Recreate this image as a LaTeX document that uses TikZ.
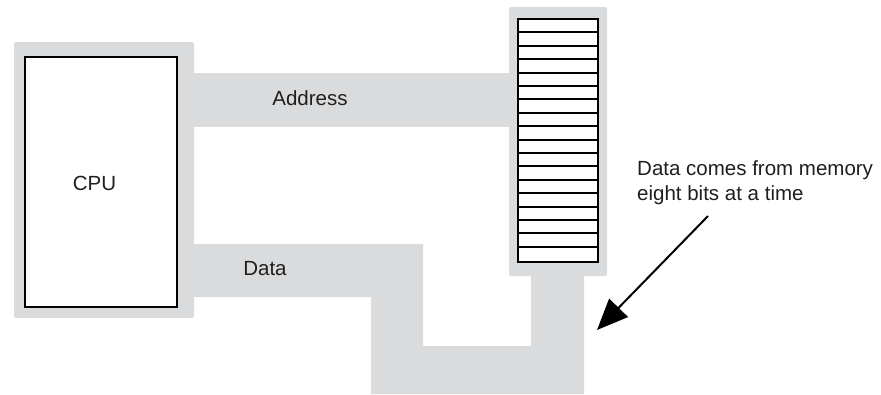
\documentclass[tikz,border=0pt]{standalone}
\usepackage{fontspec}
\setmainfont{Liberation Sans}
\usetikzlibrary{positioning, arrows.meta}
\definecolor{busgray}{RGB}{218,219,221}

\begin{document}
\begin{tikzpicture}[x=1pt, y=-1pt,
    pad/.style={fill=busgray, rounded corners=2pt},
    bus/.style={fill=busgray},
    unit/.style={rectangle, draw=black, fill=white, line width=2pt,
                 inner sep=0pt, outer sep=0pt},
    row/.style={line width=2pt},
    lbl/.style={font=\fontsize{20.5}{25}\selectfont, inner sep=0pt, text=black!88},
    pointer/.style={-{Triangle[length=31pt, width=26pt]}, line width=2pt},
]
\useasboundingbox (0,0) rectangle (881,394);

% Grey pads and buses
\fill[pad] (14,42) rectangle (194,318);
\fill[pad] (509,7) rectangle (607,276);
\fill[bus] (192,73) rectangle (511,127);
\fill[bus] (192,244) -- (423,244) -- (423,346) -- (531,346) -- (531,274)
    -- (584,274) -- (584,394) -- (371,394) -- (371,297) -- (192,297) -- cycle;

% CPU
\node[unit, minimum width=152pt, minimum height=250pt] (cpu) at (101,181.5) {};
\node[lbl, anchor=base] (cpulbl) at (94.5,190) {CPU};

% Memory
\node[unit, minimum width=80pt, minimum height=243pt] (mem) at (558,140.5) {};
\foreach \i in {1,...,17}
    \draw[row] (mem.north west) ++(0,13.4*\i) -- ++(80,0);

% Bus labels
\node[lbl, anchor=base] (addrlbl) at (310,105) {Address};
\node[lbl, anchor=base] (datalbl) at (265,275) {Data};

% Note and arrow
\node[lbl, align=left, anchor=north west] (note) at (637,160)
    {Data comes from memory\\eight bits at a time};
\coordinate (tail) at (708,216);
\coordinate (tip) at (597,330);
\draw[pointer] (tail) -- (tip);

\end{tikzpicture}
\end{document}
